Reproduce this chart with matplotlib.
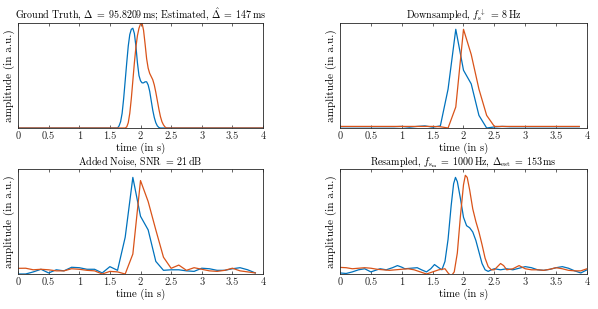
import matplotlib
matplotlib.use("Agg")
import matplotlib.pyplot as plt

# ground truth (continuous)
t_gt_blue = [0.0, 1.60, 1.625, 1.65, 1.675, 1.70, 1.725, 1.75, 1.775, 1.80, 1.825, 1.85, 1.875,
             1.90, 1.925, 1.95, 1.975, 2.00, 2.025, 2.05, 2.075, 2.10, 2.125, 2.15, 2.175,
             2.20, 2.225, 2.25, 2.275, 2.30, 2.325, 4.0]
gt_blue = [0.0, 0.0, 0.0, 0.02, 0.06, 0.14, 0.28, 0.45, 0.62, 0.78, 0.89, 0.94, 0.95,
           0.90, 0.78, 0.62, 0.50, 0.45, 0.43, 0.43, 0.44, 0.44, 0.41, 0.35, 0.26,
           0.17, 0.10, 0.05, 0.02, 0.005, 0.0, 0.0]
t_gt_red = [0.0, 1.75, 1.775, 1.80, 1.825, 1.85, 1.875, 1.90, 1.925, 1.95, 1.975, 2.00, 2.025,
            2.05, 2.075, 2.10, 2.125, 2.15, 2.175, 2.20, 2.225, 2.25, 2.275, 2.30, 2.325,
            2.35, 2.375, 2.40, 2.425, 4.0]
gt_red = [0.0, 0.0, 0.01, 0.05, 0.14, 0.28, 0.45, 0.62, 0.77, 0.88, 0.95, 0.99, 1.0,
          0.93, 0.80, 0.66, 0.57, 0.52, 0.49, 0.46, 0.41, 0.34, 0.26, 0.18, 0.11,
          0.06, 0.03, 0.01, 0.0, 0.0]

# 8 Hz samples (0 ... 3.875 s)
t_ds = [i * 0.125 for i in range(32)]
ds_blue = [0.012, 0.012, 0.012, 0.012, 0.012, 0.012, 0.012, 0.012,   # 0 - 0.875
           0.015, 0.008, 0.015, 0.02, 0.008, 0.02,                   # 1.0 - 1.625
           0.37, 0.94, 0.55, 0.42, 0.12, 0.0,                        # 1.75 - 2.375
           0.01, 0.015, 0.012, 0.012, 0.012, 0.012, 0.012, 0.012,    # 2.5 - 3.375
           0.012, 0.012, 0.012, 0.012]
ds_red = [0.015, 0.015, 0.015, 0.015, 0.015, 0.015, 0.015, 0.015,
          0.015, 0.015, 0.015, 0.015, 0.015, 0.012,
          0.0, 0.2, 0.94, 0.70, 0.37, 0.12,
          0.015, 0.015, 0.015, 0.015, 0.015, 0.015, 0.015, 0.015,
          0.015, 0.015, 0.015, 0.015]

# noisy samples
noise_blue = [0.0, 0.0, 0.02, 0.045, 0.01, 0.04, 0.03, 0.064, 0.06, 0.045, 0.045, 0.01,
              0.07, 0.035, 0.35, 0.92, 0.55, 0.42, 0.12, 0.035, 0.04, 0.04, 0.03, 0.025,
              0.055, 0.05, 0.035, 0.035, 0.05, 0.06, 0.04, 0.01]
noise_red = [0.054, 0.055, 0.04, 0.045, 0.04, 0.03, 0.03, 0.05, 0.045, 0.035, 0.03, 0.0,
             0.025, 0.02, 0.0, 0.19, 0.89, 0.69, 0.42, 0.16, 0.054, 0.085, 0.035, 0.06,
             0.045, 0.03, 0.025, 0.035, 0.055, 0.03, 0.02, 0.01]

# resampled (1000 Hz)
t_rs_blue = [0.0, 0.1, 0.2, 0.3, 0.4, 0.5, 0.6, 0.65, 0.75, 0.85, 0.93, 1.0, 1.05, 1.15,
             1.25, 1.32, 1.4, 1.47, 1.53, 1.6, 1.65, 1.7, 1.75, 1.8, 1.84, 1.87, 1.9,
             1.95, 2.0, 2.05, 2.1, 2.15, 2.2, 2.25, 2.3, 2.35, 2.4, 2.45, 2.5, 2.6, 2.7,
             2.8, 2.9, 3.0, 3.1, 3.2, 3.3, 3.4, 3.5, 3.6, 3.7, 3.8, 3.9, 4.0]
rs_blue = [0.01, 0.005, 0.02, 0.04, 0.05, 0.02, 0.04, 0.05, 0.04, 0.06, 0.08, 0.065,
           0.05, 0.055, 0.06, 0.04, 0.02, 0.05, 0.09, 0.06, 0.04, 0.12, 0.33, 0.65,
           0.86, 0.92, 0.88, 0.72, 0.54, 0.46, 0.44, 0.40, 0.32, 0.21, 0.10, 0.04,
           0.025, 0.04, 0.05, 0.04, 0.05, 0.04, 0.055, 0.07, 0.06, 0.04, 0.035, 0.045,
           0.06, 0.07, 0.055, 0.03, 0.01, 0.04]
t_rs_red = [0.0, 0.1, 0.2, 0.3, 0.4, 0.5, 0.6, 0.7, 0.8, 0.9, 1.0, 1.1, 1.2, 1.3, 1.4,
            1.5, 1.6, 1.7, 1.75, 1.8, 1.85, 1.9, 1.95, 2.0, 2.03, 2.06, 2.1, 2.15, 2.2,
            2.25, 2.3, 2.35, 2.4, 2.45, 2.5, 2.55, 2.6, 2.65, 2.7, 2.8, 2.9, 3.0, 3.1,
            3.2, 3.3, 3.4, 3.5, 3.6, 3.7, 3.8, 3.9, 4.0]
rs_red = [0.063, 0.06, 0.05, 0.055, 0.06, 0.055, 0.045, 0.04, 0.035, 0.04, 0.045, 0.05,
          0.04, 0.02, 0.0, 0.02, 0.04, 0.05, 0.01, -0.02, 0.02, 0.2, 0.55, 0.85, 0.94,
          0.92, 0.80, 0.62, 0.50, 0.40, 0.28, 0.15, 0.07, 0.04, 0.04, 0.07, 0.10, 0.08,
          0.04, 0.05, 0.08, 0.05, 0.04, 0.04, 0.035, 0.045, 0.06, 0.05, 0.035, 0.03,
          0.03, 0.05]

titles = [
    r"Ground Truth, $\Delta\;=\;95.8209\,\mathrm{ms}$; Estimated, $\hat{\Delta}\;=\;147\,\mathrm{ms}$",
    r"Downsampled, $f_\mathrm{s}^{\downarrow}\;=\;8\,\mathrm{Hz}$",
    r"Added Noise, SNR $=\;21\,\mathrm{dB}$",
    r"Resampled, $f_{\mathrm{s}_\mathrm{m}}\;=\;1000\,\mathrm{Hz}$, $\Delta_\mathrm{est}\;=\;153\,\mathrm{ms}$",
]
xticks = [0, 0.5, 1, 1.5, 2, 2.5, 3, 3.5, 4]
xticklabels = ["0", "0.5", "1", "1.5", "2", "2.5", "3", "3.5", "4"]

BLUE = "#0072BD"
RED = "#D95319"

plt.rcParams["font.family"] = "serif"
plt.rcParams["font.serif"] = ["cmr10", "DejaVu Serif"]
plt.rcParams["mathtext.fontset"] = "cm"
plt.rcParams["axes.formatter.use_mathtext"] = True


def main():
    fig = plt.figure(figsize=(5.98, 3.09), dpi=100)
    W, H = 598.0, 309.0
    boxes = [
        (18, 128, 245), (340, 128, 247),
        (18, 274, 245), (340, 274, 247),
    ]
    data = [
        ((t_gt_blue, gt_blue), (t_gt_red, gt_red)),
        ((t_ds, ds_blue), (t_ds, ds_red)),
        ((t_ds, noise_blue), (t_ds, noise_red)),
        ((t_rs_blue, rs_blue), (t_rs_red, rs_red)),
    ]
    for (x0, yb, w), (b, r), title in zip(boxes, data, titles):
        ax = fig.add_axes([x0 / W, (H - yb) / H, w / W, 105 / H])
        ax.plot(b[0], b[1], color=BLUE, lw=0.9)
        ax.plot(r[0], r[1], color=RED, lw=0.9)
        ax.set_xlim(0, 4)
        ax.set_ylim(0, 1.0)
        ax.set_xticks(xticks)
        ax.set_xticklabels(xticklabels)
        ax.set_yticks([])
        ax.tick_params(axis="x", direction="in", top=True, length=2.5, width=0.5,
                       labelsize=7.5, pad=2.5, colors="#262626")
        for s in ax.spines.values():
            s.set_linewidth(0.6)
            s.set_color("#262626")
        ax.set_title(title, fontsize=7.2, pad=3)
        ax.set_xlabel("time (in s)", fontsize=7.8, labelpad=1)
        ax.set_ylabel("amplitude (in a.u.)", fontsize=8, labelpad=2)
    fig.savefig("out.png", dpi=100)


if __name__ == "__main__":
    main()
